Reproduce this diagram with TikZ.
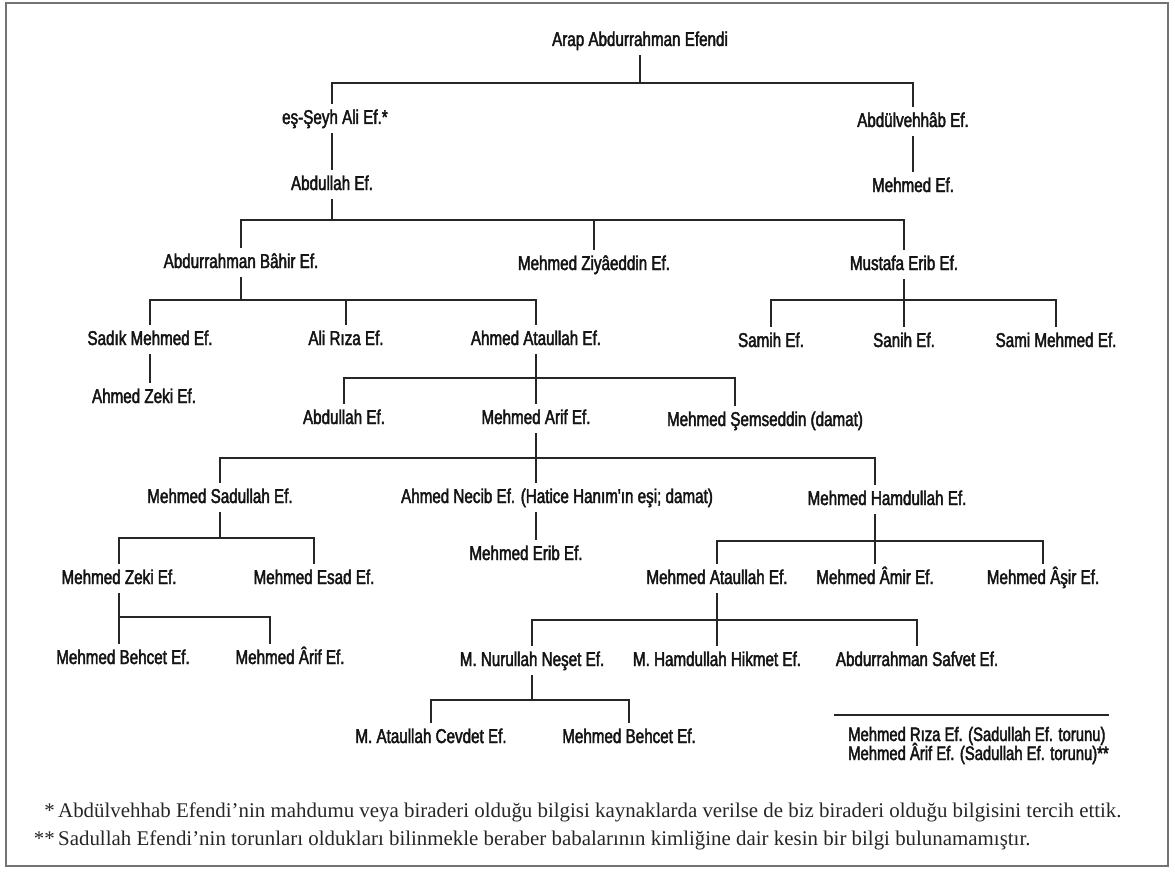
\documentclass[tikz,border=0pt]{standalone}
\usepackage{fontspec}
\newfontfamily\treefont[FakeStretch=0.76,FakeBold=2.2]{Liberation Sans}
\newfontfamily\notefont{Liberation Serif}

\begin{document}
\begin{tikzpicture}[x=1pt,y=-1pt,
    person/.style={font=\treefont\fontsize{20}{23}\selectfont, text=black!92,
        text height=14pt, text depth=3pt, inner xsep=0pt, inner ysep=6pt, anchor=base},
    link/.style={line width=1.5pt, black!85},
    legend/.style={font=\treefont\fontsize{19.5}{19}\selectfont, text=black!92,
        text height=13pt, text depth=3pt, inner sep=0pt, anchor=base west},
    note/.style={font=\notefont\fontsize{20.9}{24}\selectfont, text=black!85,
        inner sep=0pt, anchor=base west}]
    \useasboundingbox (0,0) rectangle (1175,872);
    \draw[line width=1.6pt, black!55] (6,3) rectangle (1168,866);

    % people
    \node[person] (arap) at (640,46) {Arap Abdurrahman Efendi};
    \node[person] (seyh) at (332,124) {eş-Şeyh Ali Ef.\rlap{*}};
    \node[person] (vehhab) at (913,127) {Abdülvehhâb Ef.};
    \node[person] (abdullah1) at (332,190) {Abdullah Ef.};
    \node[person] (mehmed1) at (913,192) {Mehmed Ef.};
    \node[person] (bahir) at (241,268) {Abdurrahman Bâhir Ef.};
    \node[person] (ziya) at (594,270) {Mehmed Ziyâeddin Ef.};
    \node[person] (mustafa) at (904,270) {Mustafa Erib Ef.};
    \node[person] (sadik) at (150,345) {Sadık Mehmed Ef.};
    \node[person] (alirza) at (346,345) {Ali Rıza Ef.};
    \node[person] (ahmedata) at (536,345) {Ahmed Ataullah Ef.};
    \node[person] (samih) at (771,347) {Samih Ef.};
    \node[person] (sanih) at (904,347) {Sanih Ef.};
    \node[person] (sami) at (1056,347) {Sami Mehmed Ef.};
    \node[person] (ahmedzeki) at (144,403) {Ahmed Zeki Ef.};
    \node[person] (abdullah2) at (344,424) {Abdullah Ef.};
    \node[person] (arif) at (536,424) {Mehmed Arif Ef.};
    \node[person] (semseddin) at (765,426) {Mehmed Şemseddin (damat)};
    \node[person] (sadullah) at (220,503) {Mehmed Sadullah Ef.};
    \node[person] (necib) at (557,503) {Ahmed Necib Ef. (Hatice Hanım'ın eşi; damat)};
    \node[person] (hamdullah) at (887,505) {Mehmed Hamdullah Ef.};
    \node[person] (erib) at (526,560) {Mehmed Erib Ef.};
    \node[person] (zeki) at (119,584) {Mehmed Zeki Ef.};
    \node[person] (esad) at (314,584) {Mehmed Esad Ef.};
    \node[person] (ataullah) at (717,584) {Mehmed Ataullah Ef.};
    \node[person] (amir) at (875,584) {Mehmed Âmir Ef.};
    \node[person] (asir) at (1043,584) {Mehmed Âşir Ef.};
    \node[person] (behcet) at (123,664) {Mehmed Behcet Ef.};
    \node[person] (arifb) at (290,664) {Mehmed Ârif Ef.};
    \node[person] (nurullah) at (532,666) {M. Nurullah Neşet Ef.};
    \node[person] (hikmet) at (717,666) {M. Hamdullah Hikmet Ef.};
    \node[person] (safvet) at (917,666) {Abdurrahman Safvet Ef.};
    \node[person] (cevdet) at (431,743) {M. Ataullah Cevdet Ef.};
    \node[person] (behcetb) at (629,743) {Mehmed Behcet Ef.};

    % bus heights
    \coordinate (b1) at (0,83);
    \coordinate (b2) at (0,220);
    \coordinate (b3) at (0,300);
    \coordinate (b4) at (0,378);
    \coordinate (b5) at (0,458);
    \coordinate (b6) at (0,538);
    \coordinate (b7) at (0,541);
    \coordinate (b8) at (0,617);
    \coordinate (b9) at (0,620);
    \coordinate (b10) at (0,700);
    \coordinate (semtop) at ([xshift=-30pt]semseddin.north);
    \coordinate (hamtop) at ([xshift=-12pt]hamdullah.north);
    \coordinate (ariftop) at ([xshift=-20pt]arifb.north);

    \begin{scope}[link]
        \draw (arap.south) -- (arap.south |- b1);
        \draw (seyh.north) |- (b1 -| vehhab.north) -- (vehhab.north);
        \draw (seyh.south) -- (abdullah1.north);
        \draw (vehhab.south) -- (mehmed1.north);

        \draw (abdullah1.south) -- (abdullah1.south |- b2);
        \draw (bahir.north) |- (b2 -| mustafa.north) -- (mustafa.north);
        \draw (ziya.north) -- (ziya.north |- b2);

        \draw (bahir.south) -- (bahir.south |- b3);
        \draw (sadik.north) |- (b3 -| ahmedata.north) -- (ahmedata.north);
        \draw (alirza.north) -- (alirza.north |- b3);
        \draw (sadik.south) -- (sadik.south |- ahmedzeki.north);

        \draw (samih.north) |- (b3 -| sami.north) -- (sami.north);
        \draw (mustafa.south) -- (sanih.north);

        \draw (ahmedata.south) -- (ahmedata.south |- arif.north);
        \draw (abdullah2.north) |- (b4 -| semtop) -- (semtop);

        \draw (arif.south) -- (arif.south |- necib.north);
        \draw (sadullah.north) |- (b5 -| hamtop) -- (hamtop);
        \draw (arif.south |- necib.south) -- (arif.south |- erib.north);

        \draw (sadullah.south) -- (sadullah.south |- b6);
        \draw (zeki.north) |- (b6 -| esad.north) -- (esad.north);
        \draw (zeki.south) -- (zeki.south |- behcet.north);
        \draw (zeki.south |- b8) -| (ariftop);

        \draw (hamtop |- hamdullah.south) -- (hamtop |- amir.north);
        \draw (ataullah.north) |- (b7 -| asir.north) -- (asir.north);

        \draw (ataullah.south) -- (ataullah.south |- hikmet.north);
        \draw (nurullah.north) |- (b9 -| safvet.north) -- (safvet.north);

        \draw (nurullah.south) -- (nurullah.south |- b10);
        \draw (cevdet.north) |- (b10 -| behcetb.north) -- (behcetb.north);
    \end{scope}

    % grandsons without known father
    \node[legend] (torun1) at (848,741) {Mehmed Rıza Ef. (Sadullah Ef. torunu)};
    \node[legend] (torun2) at (848,760) {Mehmed Ârif Ef. (Sadullah Ef. torunu)**};
    \draw[line width=1.5pt, black!85] ([shift={(-14pt,13pt)}]torun1.north west) -- ([yshift=13pt]torun1.north -| torun2.east);

    % footnotes
    \node[note] (note1) at (58,817) {\llap{*\,}Abdülvehhab Efendi’nin mahdumu veya biraderi olduğu bilgisi kaynaklarda verilse de biz biraderi olduğu bilgisini tercih ettik.};
    \node[note] (note2) at (58,845) {\llap{**\,}Sadullah Efendi’nin torunları oldukları bilinmekle beraber babalarının kimliğine dair kesin bir bilgi bulunamamıştır.};
\end{tikzpicture}
\end{document}
